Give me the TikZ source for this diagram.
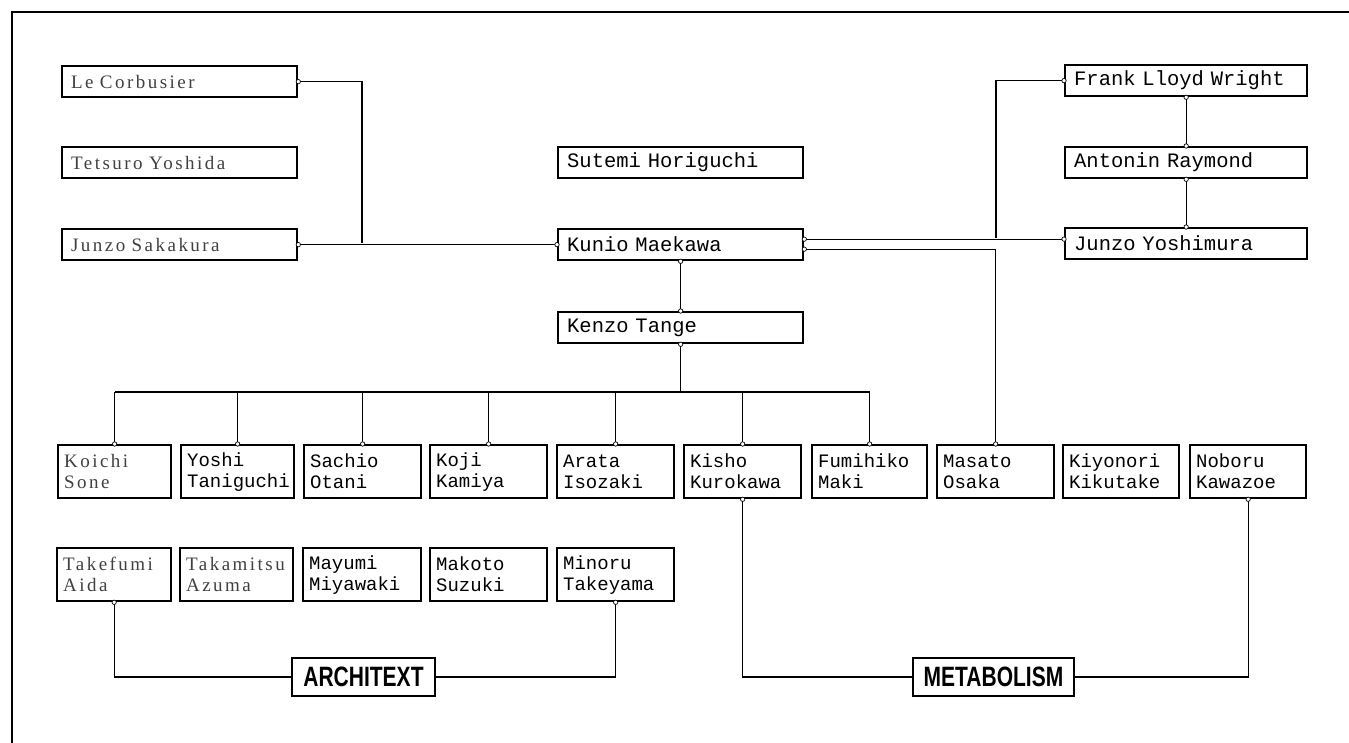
\documentclass[tikz,border=0pt]{standalone}
\usepackage{fontspec}
\newfontfamily\monof[WordSpace=1.5]{Liberation Mono}
\newfontfamily\lightf[LetterSpace=13, WordSpace=2]{Liberation Serif}
\newfontfamily\labf[FakeStretch=0.75]{Liberation Sans}
\begin{document}
\begin{tikzpicture}[x=1pt,y=-1pt,
  nbox/.style={draw, line width=2.3pt, rectangle, inner ysep=0pt, anchor=north west, align=left},
  topbox/.style={nbox, inner xsep=9pt, minimum height=31pt, font=\monof\fontsize{20.5}{22}\selectfont},
  rowbox/.style={nbox, inner xsep=6pt, minimum height=53pt, font=\monof\fontsize{19}{21}\selectfont},
  light/.style={font=\lightf\fontsize{19}{21}\selectfont, text=black!75},
  grp/.style={draw, line width=1.5pt, rectangle, minimum height=38pt, inner sep=0pt, font=\labf\bfseries\fontsize{28}{30}\selectfont},
  conn/.style={line width=1.1pt},
  odot/.style={draw, fill=white, line width=0.7pt}
]
\useasboundingbox (0,0) rectangle (1349,743);
% frame
\draw[line width=1.2pt] (12,743) -- (12,12) -- (1349,12);

% top-left column
\node[topbox, light, minimum width=235pt, text width=217pt] (lc) at (61,65) {Le Corbusier};
\node[topbox, light, minimum width=235pt, text width=217pt] (ty) at (61,146) {Tetsuro Yoshida};
\node[topbox, light, minimum width=235pt, text width=217pt] (js) at (61,228) {Junzo Sakakura};
% centre column
\node[topbox, minimum width=245pt, text width=227pt] (sh) at (557,146) {Sutemi Horiguchi};
\node[topbox, minimum width=245pt, text width=227pt] (km) at (557,228) {Kunio Maekawa};
\node[topbox, minimum width=245pt, text width=227pt] (kt) at (557,311) {Kenzo Tange};
% right column
\node[topbox, minimum width=242pt, text width=224pt] (fl) at (1064,64) {Frank Lloyd Wright};
\node[topbox, minimum width=242pt, text width=224pt] (ar) at (1064,146) {Antonin Raymond};
\node[topbox, minimum width=242pt, text width=224pt] (jy) at (1064,227) {Junzo Yoshimura};

% second row
\node[rowbox, light, minimum width=113pt, text width=101pt] (ks) at (57,444) {Koichi\\Sone};
\node[rowbox, minimum width=113pt, text width=101pt] (yt) at (180,444) {Yoshi\\Taniguchi};
\node[rowbox, minimum width=117pt, text width=105pt] (so) at (303,444) {Sachio\\Otani};
\node[rowbox, minimum width=117pt, text width=105pt] (kk) at (429,444) {Koji\\Kamiya};
\node[rowbox, minimum width=117pt, text width=105pt] (ai) at (556,444) {Arata\\Isozaki};
\node[rowbox, minimum width=117pt, text width=105pt] (kku) at (683,444) {Kisho\\Kurokawa};
\node[rowbox, minimum width=115pt, text width=103pt] (fm) at (811,444) {Fumihiko\\Maki};
\node[rowbox, minimum width=117pt, text width=105pt] (mo) at (936,444) {Masato\\Osaka};
\node[rowbox, minimum width=116pt, text width=104pt] (kki) at (1062,444) {Kiyonori\\Kikutake};
\node[rowbox, minimum width=116pt, text width=104pt] (nk) at (1189,444) {Noboru\\Kawazoe};

% third row
\node[rowbox, light, minimum width=114pt, text width=102pt] (ta) at (56,547) {Takefumi\\Aida};
\node[rowbox, light, minimum width=113pt, text width=101pt] (taz) at (179,547) {Takamitsu\\Azuma};
\node[rowbox, minimum width=118pt, text width=106pt] (mm) at (302,547) {Mayumi\\Miyawaki};
\node[rowbox, minimum width=117pt, text width=105pt] (ms) at (429,547) {Makoto\\Suzuki};
\node[rowbox, minimum width=117pt, text width=105pt] (mt) at (556,547) {Minoru\\Takeyama};

% group labels
\node[grp, minimum width=143pt] (arx) at (363.5,677) {ARCHITEXT};
\node[grp, minimum width=161pt] (meta) at (993.5,677) {METABOLISM};

% junction coordinates
\coordinate (j1) at (362,243);
\coordinate (j2) at (996,238);
\coordinate (tb) at (kt.south |- 0,392);
\coordinate (kmA) at ([yshift=5.5pt]km.east);
\coordinate (kmB) at ([yshift=-4.5pt]km.east);
\coordinate (jyW) at (kmA -| jy.west);

% connectors
\draw[conn] (lc.east) -| (j1);
\draw[conn] (js.east) -- (km.west);
\draw[conn] (kmA) -- (jyW);
\draw[conn] (fl.west) -| (j2);
\draw[conn] (kmB) -| (mo.north);
\draw[conn] (km.south) -- (kt.north);
\draw[conn] (fl.south) -- (ar.north);
\draw[conn] (ar.south) -- (jy.north);
\draw[conn] (kt.south) -- (tb);
\draw[conn] (ks.north |- tb) -- (fm.north |- tb);
\foreach \n in {ks,yt,so,kk,ai,kku,fm}{
  \draw[conn] (\n.north) -- (\n.north |- tb);
}
\draw[conn] (ta.south) |- (arx.west);
\draw[conn] (mt.south) |- (arx.east);
\draw[conn] (kku.south) |- (meta.west);
\draw[conn] (nk.south) |- (meta.east);

% small open circles at attachment points
\foreach \p in {lc.east, js.east, km.west, kmA, kmB, km.south, kt.north, kt.south,
  fl.west, fl.south, ar.north, ar.south, jy.north, jyW,
  ks.north, yt.north, so.north, kk.north, ai.north, kku.north, fm.north, mo.north,
  kku.south, nk.south, ta.south, mt.south}{
  \draw[odot] (\p) circle (2.2pt);
}
\end{tikzpicture}
\end{document}
